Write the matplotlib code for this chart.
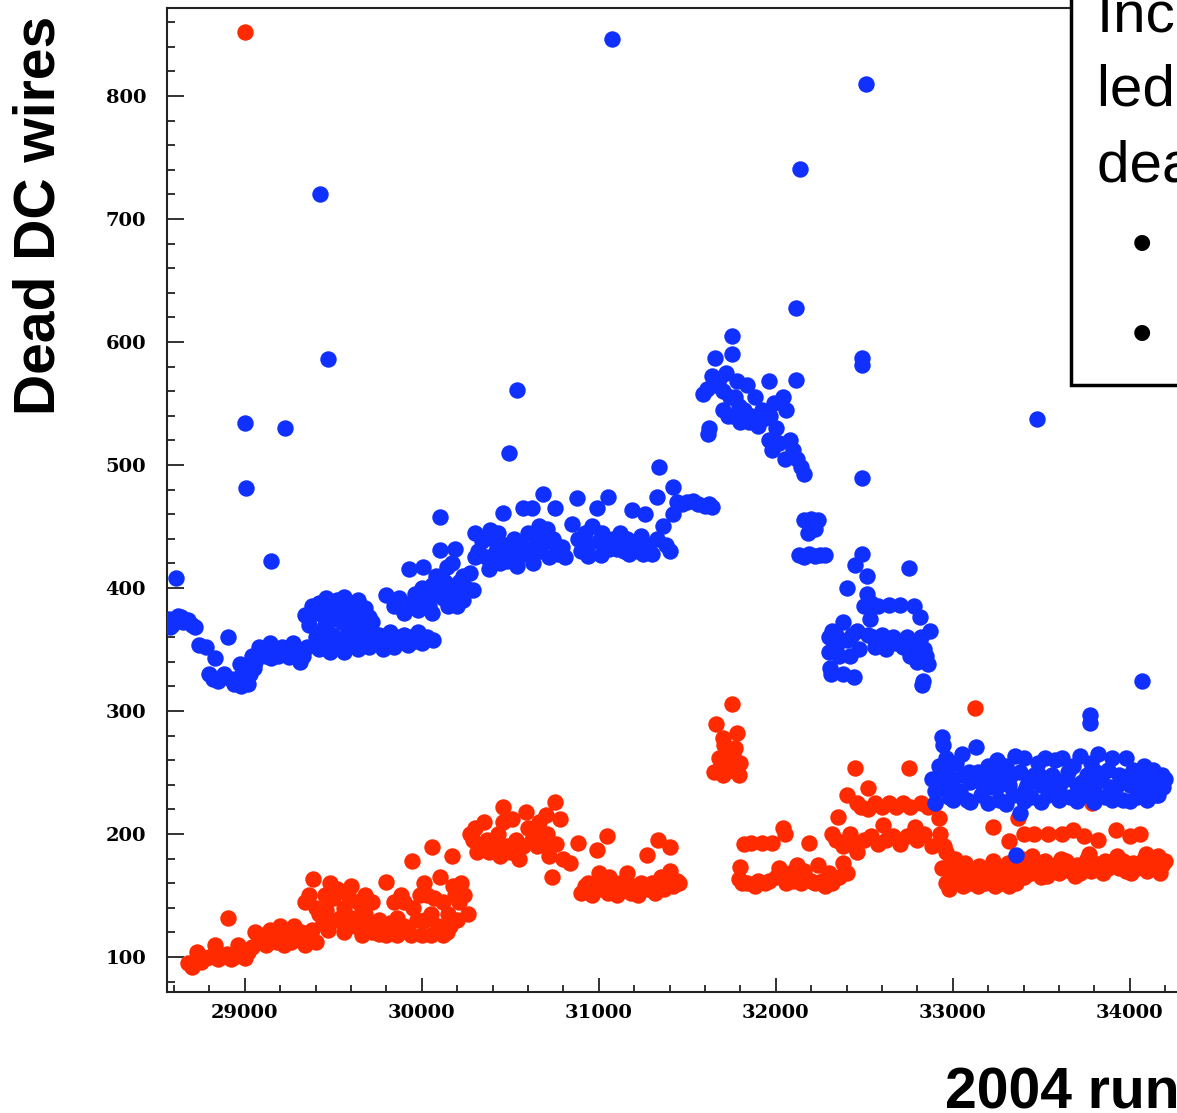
import matplotlib
matplotlib.use("Agg")
from matplotlib import pyplot as plt
from matplotlib.ticker import MultipleLocator
from matplotlib.patches import Rectangle

# (run, dead wires) pairs
blue_pts = [
    # start of the year
    (28570, 375), (28590, 370), (28610, 408), (28620, 377), (28650, 372), (28680, 374),
    (28700, 370), (28720, 368), (28740, 354), (28780, 352), (28800, 330), (28820, 326),
    (28830, 343), (28850, 324), (28870, 328), (28880, 330), (28905, 360), (28920, 326),
    (28940, 322), (28960, 327), (28980, 320), (29000, 325), (29020, 322), (28970, 338),
    (29000, 534), (29005, 481), (29030, 330), (29050, 335), (28575, 368), (28640, 376),
    (29040, 345), (29060, 340), (29080, 352), (29100, 348), (29120, 345), (29140, 355),
    (29150, 343), (29170, 350), (29190, 345), (29210, 352), (29230, 348), (29250, 344),
    (29270, 355), (29290, 350), (29310, 340), (29330, 345), (29350, 352),
    (29145, 422), (29225, 530), (29425, 720), (29470, 586),
    (29340, 378), (29360, 370), (29380, 385), (29400, 380), (29420, 388), (29440, 378),
    (29460, 392), (29480, 385), (29500, 375), (29520, 390), (29540, 382), (29560, 393),
    (29580, 380), (29600, 388), (29620, 378), (29640, 390), (29680, 384), (29700, 376),
    (29720, 372), (29800, 394), (29450, 370), (29550, 372), (29650, 370), (29600, 372),
    (29400, 360), (29420, 350), (29440, 365), (29460, 355), (29480, 348), (29500, 362),
    (29520, 352), (29540, 358), (29560, 348), (29580, 365), (29600, 355), (29620, 360),
    (29640, 350), (29660, 358), (29680, 362), (29700, 352), (29720, 360), (29740, 355),
    (29760, 362), (29780, 350), (29800, 358), (29820, 364), (29840, 352), (29860, 360),
    (29880, 356), (29900, 362), (29920, 354), (29940, 360), (29960, 357), (29980, 364),
    (30000, 355), (30030, 360), (30065, 358),
    (29840, 385), (29870, 392), (29900, 380), (29930, 415), (29940, 388), (29960, 395),
    (29980, 382), (30000, 400), (30005, 417), (30020, 390), (30040, 385), (30060, 402),
    (30080, 395), (30100, 458), (30100, 431), (30110, 410), (30120, 392), (30140, 417),
    (30150, 400), (30170, 420), (30185, 432), (30190, 395), (30210, 405), (30230, 390),
    (30250, 400), (30270, 412), (30290, 398), (30300, 445), (30320, 430), (30340, 438),
    (30360, 425), (30385, 447), (30380, 415), (30300, 425), (30060, 380), (30200, 385),
    (30150, 385), (30130, 405), (30230, 410), (30080, 410),
    # slow rise up to 31650
    (30400, 440), (30420, 430), (30440, 420), (30460, 461), (30470, 435), (30490, 510),
    (30500, 425), (30520, 440), (30535, 561), (30540, 418), (30560, 435), (30570, 465),
    (30580, 428), (30600, 445), (30620, 465), (30630, 420), (30650, 440), (30670, 430),
    (30685, 476), (30700, 438), (30720, 425), (30740, 440), (30750, 465), (30770, 428),
    (30790, 433), (30810, 425), (30850, 452), (30875, 473), (30880, 440), (30900, 430),
    (30920, 445), (30940, 435), (30960, 450), (30990, 465), (31000, 438), (31020, 445),
    (31050, 474), (31060, 432), (31080, 440), (31100, 432), (31120, 445), (31140, 430),
    (31160, 440), (31190, 463), (31200, 436), (31220, 430), (31240, 442), (31260, 460),
    (31280, 435), (31300, 428), (31330, 474), (31330, 440), (31340, 498), (31360, 450),
    (31380, 435), (31400, 430), (31420, 482), (31420, 460), (31440, 470), (31470, 468),
    (31500, 470), (31530, 471), (31560, 468), (31600, 467), (31620, 468), (31640, 466),
    (31075, 846), (30430, 445), (30480, 422), (30530, 428), (30610, 432), (30660, 450),
    (30710, 448), (30760, 435), (30940, 426), (31010, 427), (31170, 428), (31250, 428),
    # peak
    (31590, 558), (31610, 562), (31620, 530), (31615, 525), (31655, 587), (31640, 572),
    (31660, 565), (31680, 570), (31700, 560), (31700, 545), (31720, 575), (31740, 555),
    (31750, 605), (31755, 590), (31760, 540), (31780, 568), (31790, 548), (31800, 535),
    (31820, 545), (31840, 565), (31860, 540), (31880, 555), (31900, 532), (31920, 545),
    (31940, 538), (31960, 568), (31970, 540), (31990, 550), (32000, 530), (32020, 518),
    (32040, 555), (32060, 545), (32080, 520), (32100, 512), (32115, 628), (32115, 569),
    (32120, 505), (32135, 741), (32140, 498), (32160, 493), (31960, 520), (31980, 512),
    (32050, 505), (31730, 540), (31850, 535), (31770, 555),
    # drop
    (32160, 455), (32180, 445), (32200, 456), (32220, 448), (32240, 455), (32130, 427),
    (32160, 425), (32190, 428), (32220, 426), (32250, 427), (32280, 427),
    (32300, 360), (32300, 348), (32305, 335), (32310, 330), (32320, 365), (32340, 352),
    (32360, 345), (32380, 330), (32380, 372), (32400, 400), (32400, 358), (32420, 345),
    (32440, 328), (32445, 419), (32460, 365), (32470, 350), (32490, 587), (32490, 581),
    (32490, 489), (32490, 428), (32500, 385), (32510, 810), (32515, 410), (32515, 395),
    (32530, 375), (32540, 388), (32550, 360), (32560, 352), (32580, 385), (32600, 362),
    (32620, 350), (32640, 386), (32660, 360), (32680, 355), (32700, 386), (32720, 352),
    (32740, 360), (32755, 416), (32760, 345), (32780, 385), (32790, 352), (32800, 340),
    (32815, 376), (32820, 360), (32840, 350), (32850, 345), (32830, 324), (32825, 321),
    (32860, 338), (32870, 365), (32340, 362), (32430, 362), (32520, 362), (32590, 355),
    # late runs
    (32880, 245), (32900, 235), (32920, 255), (32940, 279), (32945, 272), (32950, 240),
    (32970, 250), (32980, 230), (33000, 245), (33020, 258), (33040, 235), (33060, 248),
    (33080, 228), (33100, 242), (33130, 271), (33140, 250), (33160, 232), (33180, 245),
    (33200, 255), (33220, 238), (33240, 250), (33260, 228), (33280, 245), (33300, 255),
    (33320, 240), (33340, 232), (33360, 183), (33380, 217), (33380, 250), (33400, 262),
    (33420, 240), (33440, 230), (33460, 248), (33475, 537), (33480, 258), (33500, 240),
    (33520, 262), (33540, 232), (33560, 248), (33580, 260), (33600, 238), (33620, 262),
    (33640, 245), (33660, 230), (33680, 255), (33700, 240), (33720, 263), (33740, 232),
    (33760, 248), (33775, 297), (33775, 290), (33780, 258), (33800, 238), (33820, 265),
    (33840, 245), (33860, 230), (33880, 252), (33900, 262), (33920, 238), (33940, 248),
    (33960, 228), (33980, 262), (34000, 240), (34020, 252), (34040, 230), (34060, 245),
    (34070, 324), (34080, 255), (34100, 235), (34120, 248), (34140, 240), (34160, 232),
    (34180, 248), (34200, 245),
    (32900, 225), (33000, 228), (33100, 226), (33200, 225), (33300, 224), (33400, 227),
    (33500, 226), (33600, 228), (33700, 227), (33800, 226), (33900, 228), (34000, 227),
    (34100, 228), (34150, 232), (32960, 262), (33050, 265), (33250, 260), (33350, 263),
    (32930, 245), (33010, 236), (33090, 250), (33170, 240), (33250, 238), (33330, 248),
    (33410, 236), (33490, 248), (33570, 238), (33650, 250), (33730, 242), (33810, 250),
    (33890, 238), (33970, 246), (34050, 236), (34130, 252), (34190, 238),
]

red_pts = [
    (28680, 95), (28700, 92), (28720, 97), (28730, 104), (28750, 96), (28780, 99),
    (28800, 100), (28830, 110), (28850, 98), (28870, 100), (28900, 102), (28905, 132),
    (28920, 98), (28940, 100), (28960, 110), (28980, 102), (29000, 99), (29020, 104),
    (29000, 852), (29040, 108), (29060, 120), (29080, 112), (29100, 118), (29120, 110),
    (29140, 122), (29160, 115), (29180, 112), (29200, 125), (29220, 110), (29240, 118),
    (29260, 112), (29280, 125), (29300, 115), (29320, 120), (29340, 110), (29360, 115),
    (29380, 122), (29400, 112),
    (29340, 145), (29360, 150), (29385, 163), (29400, 140), (29420, 135), (29440, 128),
    (29450, 150), (29460, 138), (29480, 160), (29500, 148), (29520, 155), (29540, 132),
    (29560, 120), (29580, 150), (29600, 158), (29620, 125), (29640, 145), (29660, 118),
    (29680, 150), (29700, 128), (29720, 120), (29740, 128), (29760, 119), (29780, 125),
    (29800, 161), (29800, 118), (29820, 128), (29840, 145), (29860, 118), (29880, 150),
    (29900, 125), (29920, 120), (29945, 178), (29950, 140), (29970, 130), (29990, 150),
    (30000, 118), (30010, 160), (30030, 150), (30050, 135), (30060, 189), (30070, 148),
    (30090, 125), (30100, 165), (30120, 145), (30140, 120), (30150, 135), (30160, 125),
    (30170, 182), (30175, 158), (30190, 150), (30210, 145), (30220, 160), (30240, 150),
    (30260, 135), (30270, 200), (30290, 195), (30300, 205), (30310, 185), (30330, 190),
    (30350, 210), (30370, 195), (30380, 185), (29520, 130), (29600, 132), (29680, 135),
    (29760, 130), (29860, 132), (29940, 118), (30050, 118), (30120, 118), (30200, 130),
    (29470, 122), (29560, 140), (29660, 140), (29720, 145), (29900, 145), (30020, 130),
    (30400, 188), (30420, 195), (30440, 182), (30460, 222), (30460, 210), (30480, 190),
    (30500, 185), (30510, 212), (30530, 195), (30550, 180), (30570, 190), (30590, 218),
    (30600, 205), (30620, 195), (30640, 200), (30660, 210), (30680, 192), (30700, 215),
    (30720, 182), (30735, 165), (30750, 226), (30760, 192), (30780, 212), (30800, 180),
    (30840, 176), (30880, 193), (30900, 152), (30920, 158), (30940, 160), (30960, 150),
    (30990, 187), (31000, 155), (31020, 160), (31045, 198), (31050, 152), (31080, 158),
    (31100, 150), (31120, 160), (31140, 155), (31160, 168), (31180, 152), (31200, 158),
    (31220, 150), (31240, 160), (31270, 183), (31280, 155), (31300, 160), (31320, 152),
    (31335, 195), (31350, 165), (31370, 155), (31400, 189), (31400, 170), (31420, 158),
    (31440, 162), (31455, 160), (31000, 168), (31060, 165), (30430, 200), (30540, 192),
    (30650, 190), (30710, 200),
    # short high cluster
    (31650, 250), (31665, 289), (31680, 262), (31690, 255), (31700, 248), (31710, 272),
    (31720, 260), (31740, 252), (31755, 306), (31760, 265), (31780, 282), (31790, 248),
    (31800, 258), (31700, 278), (31770, 270),
    (31790, 163), (31810, 160), (31800, 173), (31820, 192), (31840, 160), (31860, 193),
    (31880, 158), (31900, 162), (31920, 193), (31940, 160), (31960, 162), (31980, 193),
    (32000, 165), (32020, 172), (32040, 205), (32050, 200), (32060, 160), (32080, 168),
    (32100, 162), (32120, 175), (32140, 160), (32160, 170), (32190, 193), (32200, 162),
    (32220, 160), (32240, 175), (32260, 162), (32280, 158), (32300, 168), (32320, 200),
    (32320, 160), (32340, 195), (32350, 214), (32360, 165), (32380, 176), (32380, 190),
    (32400, 232), (32400, 168), (32420, 200), (32440, 190), (32445, 254), (32460, 185),
    (32460, 225), (32480, 222), (32500, 195), (32520, 237), (32520, 220), (32540, 198),
    (32560, 225), (32580, 192), (32600, 222), (32605, 207), (32620, 195), (32640, 225),
    (32660, 198), (32680, 222), (32700, 192), (32720, 225), (32740, 198), (32755, 254),
    (32760, 222), (32785, 206), (32800, 195), (32820, 225), (32840, 200), (32860, 222),
    (32880, 190), (32900, 225), (32920, 213), (32930, 200), (32950, 190), (32960, 185),
    (32980, 175), (33000, 168), (33020, 160), (32940, 172), (32960, 160), (32980, 155),
    (33040, 165), (33060, 158), (33080, 170), (33100, 160), (33125, 302), (33120, 168),
    (33140, 158), (33160, 165), (33180, 160), (33200, 170), (33220, 162), (33225, 206),
    (33240, 158), (33260, 168), (33280, 160), (33300, 165), (33320, 194), (33320, 158),
    (33340, 168), (33360, 160), (33370, 213), (33380, 175), (33400, 200), (33400, 165),
    (33420, 172), (33440, 168), (33460, 200), (33480, 172), (33500, 165), (33520, 178),
    (33540, 200), (33560, 170), (33580, 175), (33600, 168), (33620, 200), (33640, 178),
    (33660, 170), (33680, 203), (33700, 175), (33720, 168), (33740, 198), (33760, 180),
    (33780, 170), (33785, 225), (33800, 176), (33820, 195), (33840, 170), (33860, 178),
    (33880, 172), (33900, 176), (33920, 203), (33940, 172), (33960, 178), (33980, 170),
    (34000, 198), (34020, 176), (34040, 172), (34060, 200), (34080, 180), (34100, 170),
    (34120, 176), (34140, 172), (34160, 182), (34180, 175), (34200, 178),
    (33010, 180), (33070, 176), (33150, 174), (33230, 178), (33310, 176), (33390, 180),
    (33450, 182), (33530, 166), (33610, 180), (33690, 166), (33770, 184), (33850, 168),
    (33930, 182), (34010, 168), (34090, 184), (34170, 168),
]

box_lines = ["Increase in HV", "led to more", "dead wires"]
bullet_lines = ["•  red: ...", "•  blue: ..."]

W, H = 1177, 1113
fig = plt.figure(figsize=(W / 100, H / 100), dpi=100)
ax = fig.add_axes([167 / W, 121 / H, 1122 / W, 984 / H])

br, bw = zip(*blue_pts)
rr, rw = zip(*red_pts)
ax.scatter(rr, rw, s=140, color="#ff2a00", linewidths=0, zorder=2)
ax.scatter(br, bw, s=140, color="#1030ff", linewidths=0, zorder=3)

ax.set_xlim(28560, 34900)
ax.set_ylim(71.5, 871.5)
ax.xaxis.set_major_locator(MultipleLocator(1000))
ax.xaxis.set_minor_locator(MultipleLocator(200))
ax.yaxis.set_major_locator(MultipleLocator(100))
ax.yaxis.set_minor_locator(MultipleLocator(20))
ax.tick_params(which="both", direction="in", width=1.3, colors="#222222")
ax.tick_params(axis="x", which="major", length=10, pad=9)
ax.tick_params(axis="x", which="minor", length=5)
ax.tick_params(axis="y", which="major", length=12, pad=15)
ax.tick_params(axis="y", which="minor", length=6)
for lab in ax.get_xticklabels() + ax.get_yticklabels():
    lab.set_fontfamily("DejaVu Serif")
    lab.set_fontweight("bold")
    lab.set_fontsize(14)
    lab.set_color("black")
for sp in ax.spines.values():
    sp.set_linewidth(1.5)
    sp.set_color("#222222")

sans = ["Liberation Sans", "DejaVu Sans"]
fig.text(40 / W, 1 - 215 / H, "Dead DC wires", rotation=90, ha="center", va="center",
         fontsize=41, fontweight="bold", family=sans)
fig.text(945 / W, 1 - 1108 / H, "2004 run number", ha="left", va="baseline",
         fontsize=41, fontweight="bold", family=sans)

# note box in the top right corner, cut by the picture edge
box = Rectangle((1071 / W, 1 - 385 / H), 0.5, 0.5, transform=fig.transFigure,
                facecolor="white", edgecolor="black", linewidth=2.5, zorder=5)
fig.add_artist(box)
for i, line in enumerate(box_lines):
    fig.text(1097 / W, 1 - (31 + 75 * i) / H, line, ha="left", va="baseline",
             fontsize=42, family=sans, zorder=6)
for i, line in enumerate(bullet_lines):
    fig.text(1132 / W, 1 - (262 + 90 * i) / H, line, ha="left", va="baseline",
             fontsize=42, family=sans, zorder=6)

fig.savefig("out.png", dpi=100)
